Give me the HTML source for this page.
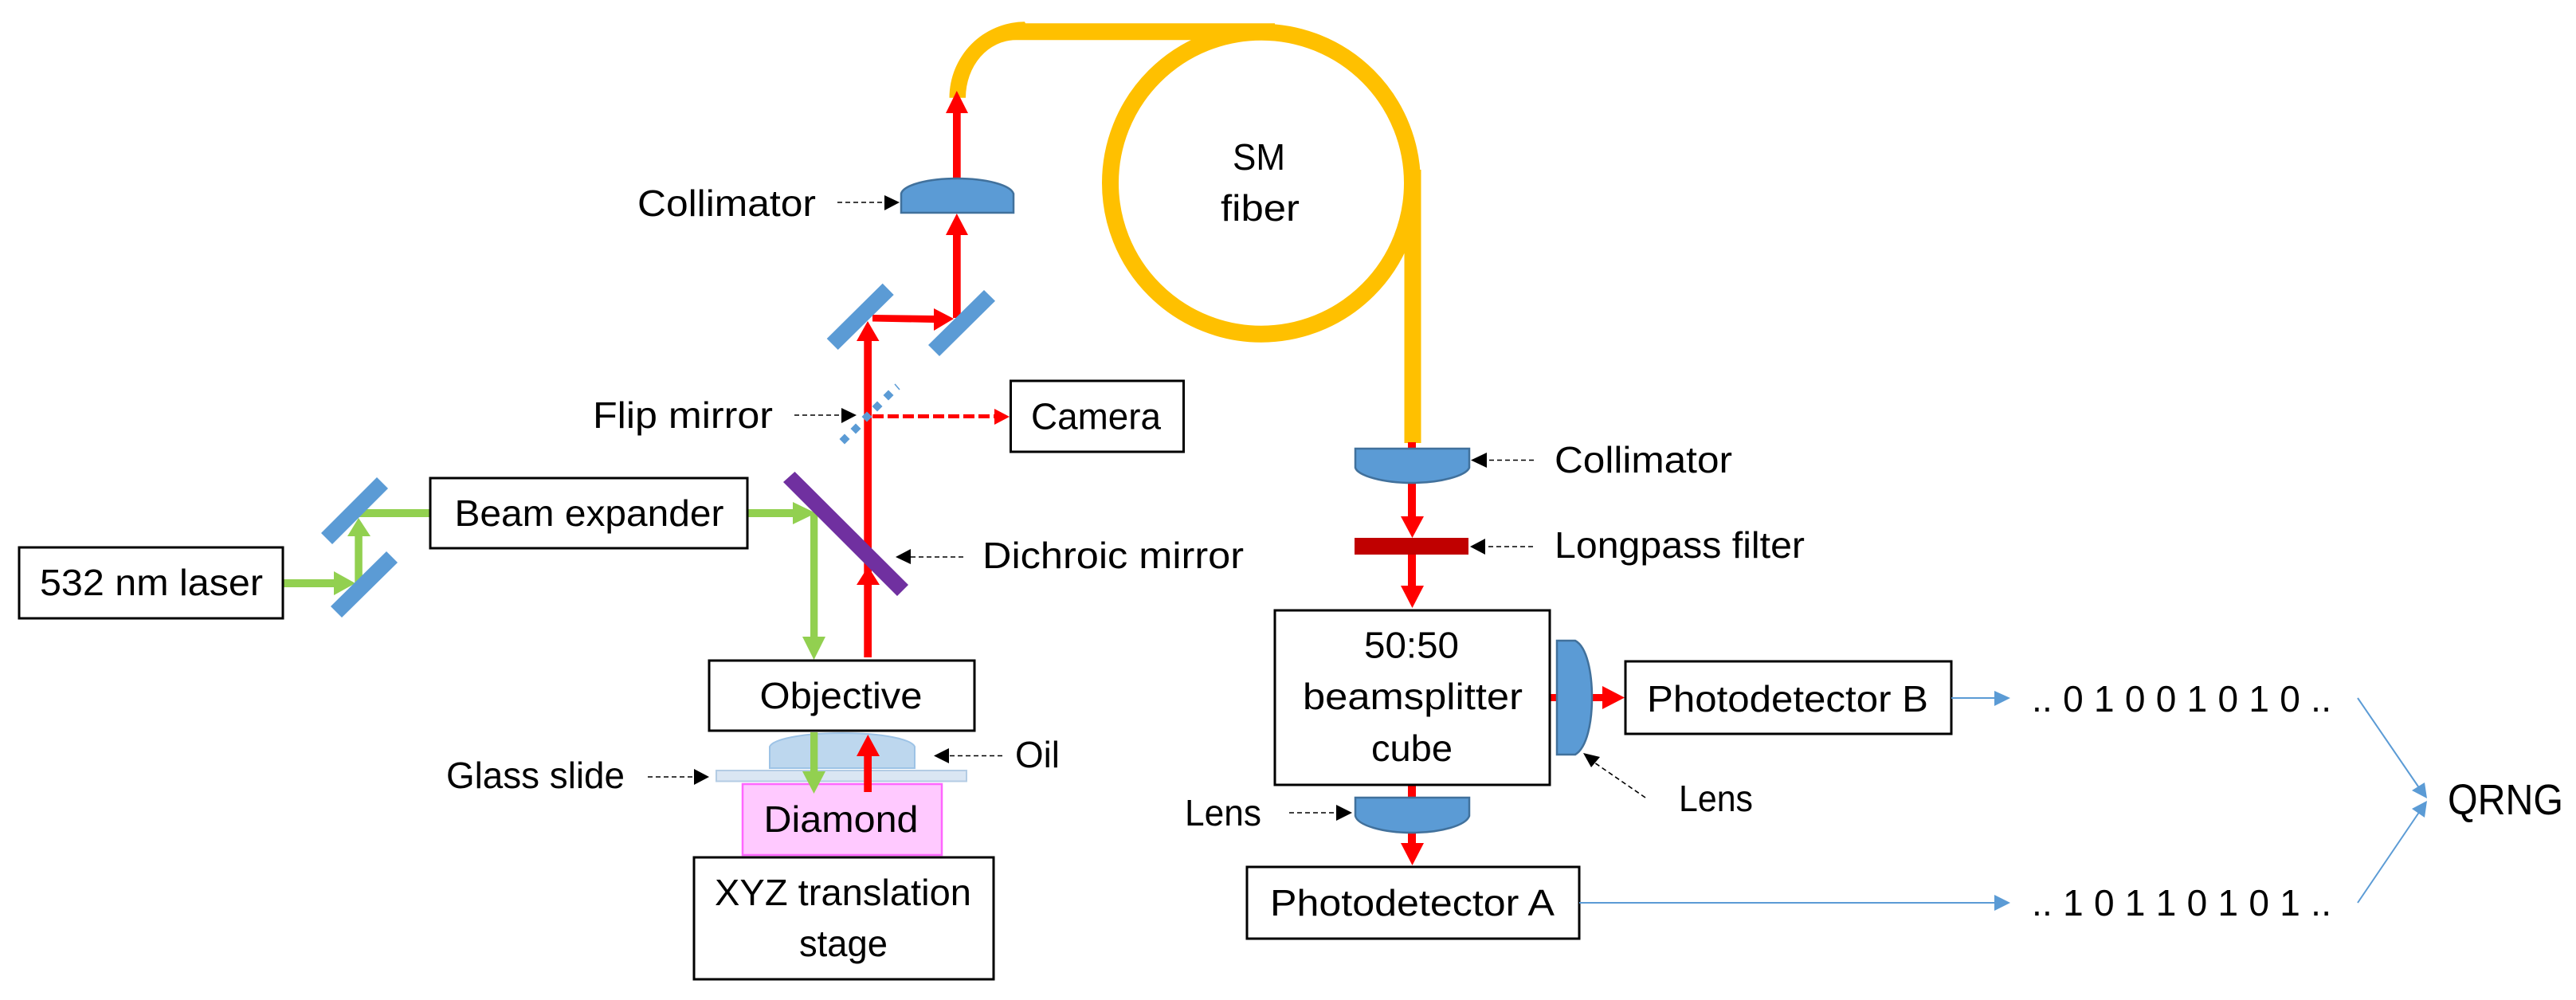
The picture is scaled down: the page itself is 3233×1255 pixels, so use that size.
<!DOCTYPE html>
<html><head><meta charset="utf-8"><style>
html,body{margin:0;padding:0;background:#fff}
svg{display:block}
text{font-family:"Liberation Sans",sans-serif;font-size:46px;fill:#000}
</style></head><body>
<svg xmlns="http://www.w3.org/2000/svg" width="3233" height="1255" viewBox="0 0 3233 1255">
<rect width="3233" height="1255" fill="#fff"/>
<!-- fiber -->
<circle cx="1583" cy="229.7" r="189.5" fill="none" stroke="#FFC000" stroke-width="21"/>
<path d="M1191.5 122.7A95 95.5 0 0 1 1286 27.3L1287 29.3H1600V50.2H1275A63 72.5 0 0 0 1212 122.7Z" fill="#FFC000"/>
<rect x="1762.5" y="213" width="21" height="343" fill="#FFC000"/>
<!-- red beams -->
<g fill="#f00">
<rect x="1084.3" y="420" width="9.7" height="405"/>
<polygon points="1095,395 1172,396 1172,405 1095,403.5"/>
<polygon points="1172,387 1197,400 1172,415"/>
<polygon points="1089,403 1103.5,428 1075,428"/>
<rect x="1196" y="280" width="9.7" height="119"/>
<polygon points="1200.8,268 1215,295 1187,295"/>
<rect x="1196" y="135" width="9.7" height="90"/>
<polygon points="1200.8,114 1215,142 1187,142"/>
<polygon points="1089.5,711 1104,734 1075,734"/>
<rect x="1767" y="555" width="10" height="10"/>
<rect x="1767" y="605" width="10" height="45"/>
<polygon points="1758,648 1787,648 1772.5,675"/>
<rect x="1767" y="695" width="10" height="42"/>
<polygon points="1758,735 1787,735 1772.5,763"/>
<rect x="1767" y="985" width="10" height="18"/>
<rect x="1767" y="1044" width="10" height="18"/>
<polygon points="1758,1058 1787,1058 1772.5,1086"/>
<rect x="1945" y="871" width="70" height="9"/>
<polygon points="2011,861 2011,890 2039,875.5"/>
<polygon points="1248,513 1248,533 1267,523"/>
</g>
<line x1="1095" y1="522.5" x2="1250" y2="522.5" stroke="#f00" stroke-width="5" stroke-dasharray="14 5"/>
<!-- green beams -->
<g fill="#92D050">
<rect x="355" y="727" width="68" height="10"/>
<polygon points="419,717 419,747 446,732"/>
<rect x="445.3" y="665" width="9.5" height="67"/>
<polygon points="450,650 465,673 436,673"/>
<rect x="450" y="639" width="89" height="10"/>
<rect x="938" y="639" width="60" height="10"/>
<polygon points="995,630 995,658 1024,644"/>
<rect x="1017" y="644" width="9.3" height="160"/>
<polygon points="1007,799 1036,799 1021.5,828"/>
</g>
<!-- mirrors -->
<g fill="#5B9BD5">
<polygon points="473,599 487,613 417,683 403,669"/>
<polygon points="485,692 499,706 429,775 415,761"/>
<polygon points="1107.7,355.7 1121.7,370 1051.7,439 1037.7,425"/>
<polygon points="1235,364 1249,377.7 1179,447 1165,433"/>
<polygon points="1115,489.5 1121.5,496 1115,502.5 1108.5,496"/>
<polygon points="1101,503.5 1107.5,510 1101,516.5 1094.5,510"/>
<polygon points="1088,516.5 1094.5,523 1088,529.5 1081.5,523"/>
<polygon points="1074,531.5 1080.5,538 1074,544.5 1067.5,538"/>
<polygon points="1060,544.5 1066.5,551 1060,557.5 1053.5,551"/>
</g>
<line x1="1123" y1="482" x2="1129" y2="489" stroke="#5B9BD5" stroke-width="1.5"/>
<polygon points="997.5,592 983,605 1126,748 1140,734" fill="#7030A0"/>
<!-- collimators and lenses -->
<g fill="#5B9BD5" stroke="#41719C" stroke-width="2.5">
<path d="M1131 267V243C1134 232 1165 224 1201 224S1268 232 1272 243V267Z"/>
<path d="M1701 563H1844V587C1840 597 1808 606 1772 606S1704 597 1701 587Z"/>
<path d="M1701 1001H1844V1024C1840 1036 1808 1045 1772 1045S1704 1036 1701 1024Z"/>
<path d="M1954 804H1977C1992 812 1998 845 1998 875.5C1998 906 1992 938 1977 947H1954Z"/>
</g>
<rect x="1700" y="675" width="143" height="21" fill="#C00000"/>
<!-- sample stack -->
<path d="M966 964V937C970 928 1005 920 1057 920S1144 928 1148 937V964Z" fill="#BDD7EE" stroke="#9DC3E6" stroke-width="2"/>
<rect x="899" y="967" width="314" height="13.5" fill="#DAE6F3" stroke="#B4CCE4" stroke-width="2"/>
<rect x="932" y="984" width="250" height="89" fill="#FFC9FF" stroke="#FF66FF" stroke-width="2.5"/>
<rect x="1017" y="919" width="9.3" height="50" fill="#92D050"/>
<polygon points="1007,968 1036,968 1021.5,996" fill="#92D050"/>
<rect x="1084.3" y="945" width="9.7" height="49" fill="#f00"/>
<polygon points="1089.3,922 1104,949 1075,949" fill="#f00"/>
<!-- boxes -->
<g fill="#fff" stroke="#000" stroke-width="3">
<rect x="24" y="687" width="331" height="89"/>
<rect x="540" y="600" width="398" height="88"/>
<rect x="890" y="829" width="333" height="88"/>
<rect x="871" y="1076" width="376" height="153"/>
<rect x="1268.5" y="478" width="217" height="89"/>
<rect x="1600" y="766" width="345" height="219"/>
<rect x="2040" y="830" width="409" height="91"/>
<rect x="1565" y="1088" width="417" height="90"/>
</g>
<!-- dashed annotation arrows -->
<g stroke="#000" stroke-width="1.6" stroke-dasharray="6 4" fill="none">
<path d="M1051 254H1113"/><path d="M997 521H1058"/><path d="M1209 699H1141"/>
<path d="M813 975H873"/><path d="M1258 948.5H1190"/><path d="M1925 577.5H1863"/>
<path d="M1924 686H1862"/><path d="M1618 1020H1679"/><path d="M2065 1001L2001 957"/>
</g>
<g fill="#000">
<polygon points="1110,245 1129,254 1110,264"/>
<polygon points="1056,512 1075,521 1056,531"/>
<polygon points="1143,689 1124,699 1143,708"/>
<polygon points="871,965 890,975 871,985"/>
<polygon points="1191,939 1172,948.5 1191,958"/>
<polygon points="1866,568 1846,577.5 1866,587"/>
<polygon points="1864,676 1845,686 1864,696"/>
<polygon points="1677,1010 1697,1020 1677,1030"/>
<polygon points="1987,945 2008,950 1997,963"/>
</g>
<!-- blue output arrows -->
<g stroke="#5B9BD5" stroke-width="2" fill="none">
<path d="M2449 876H2505"/><path d="M1982 1133H2505"/>
<path d="M2959 876L3037 990"/><path d="M2959 1133L3037 1018"/>
</g>
<g fill="#5B9BD5">
<polygon points="2503,867 2523,876 2503,886"/>
<polygon points="2503,1123 2523,1133 2503,1143"/>
<polygon points="3043,982 3046,1002 3027,992"/>
<polygon points="3046,1005 3027,1015 3043,1026"/>
</g>
<!-- text -->
<text x="50" y="747" textLength="280" lengthAdjust="spacingAndGlyphs">532 nm laser</text>
<text x="570.5" y="660" textLength="338" lengthAdjust="spacingAndGlyphs">Beam expander</text>
<text x="953.5" y="889" textLength="204" lengthAdjust="spacingAndGlyphs">Objective</text>
<text x="958.5" y="1044" textLength="194" lengthAdjust="spacingAndGlyphs">Diamond</text>
<text x="897" y="1136" textLength="322" lengthAdjust="spacingAndGlyphs">XYZ translation</text>
<text x="1003" y="1200" textLength="111" lengthAdjust="spacingAndGlyphs">stage</text>
<text x="560" y="989" textLength="224" lengthAdjust="spacingAndGlyphs">Glass slide</text>
<text x="1274" y="963" textLength="56" lengthAdjust="spacingAndGlyphs">Oil</text>
<text x="1233" y="713" textLength="328" lengthAdjust="spacingAndGlyphs">Dichroic mirror</text>
<text x="744" y="537" textLength="226" lengthAdjust="spacingAndGlyphs">Flip mirror</text>
<text x="800" y="271" textLength="224" lengthAdjust="spacingAndGlyphs">Collimator</text>
<text x="1294" y="538.5" textLength="163" lengthAdjust="spacingAndGlyphs">Camera</text>
<text x="1547" y="213" textLength="66" lengthAdjust="spacingAndGlyphs">SM</text>
<text x="1532" y="277" textLength="99" lengthAdjust="spacingAndGlyphs">fiber</text>
<text x="1951" y="593" textLength="223" lengthAdjust="spacingAndGlyphs">Collimator</text>
<text x="1951" y="700" textLength="314" lengthAdjust="spacingAndGlyphs">Longpass filter</text>
<text x="1712" y="825.7" textLength="119" lengthAdjust="spacingAndGlyphs">50:50</text>
<text x="1635" y="890" textLength="276" lengthAdjust="spacingAndGlyphs">beamsplitter</text>
<text x="1721" y="955" textLength="102" lengthAdjust="spacingAndGlyphs">cube</text>
<text x="2067" y="893" textLength="353" lengthAdjust="spacingAndGlyphs">Photodetector B</text>
<text x="1594" y="1149" textLength="357" lengthAdjust="spacingAndGlyphs">Photodetector A</text>
<text x="1487" y="1036" textLength="96" lengthAdjust="spacingAndGlyphs">Lens</text>
<text x="2107" y="1018" textLength="93" lengthAdjust="spacingAndGlyphs">Lens</text>
<text x="2550" y="893" textLength="376" lengthAdjust="spacing">.. 0 1 0 0 1 0 1 0 ..</text>
<text x="2550" y="1149" textLength="376" lengthAdjust="spacing">.. 1 0 1 1 0 1 0 1 ..</text>
<text x="3072" y="1022" textLength="145" lengthAdjust="spacingAndGlyphs" style="font-size:54px">QRNG</text>
</svg>
</body></html>
